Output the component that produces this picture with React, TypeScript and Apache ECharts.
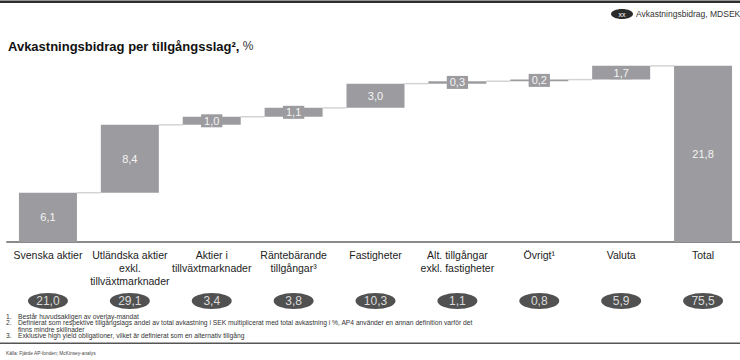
import React, { useEffect, useRef } from "react";
import * as echarts from "echarts";

const categories = [
  "Svenska aktier",
  "Utländska aktier\nexkl.\ntillväxtmarknader",
  "Aktier i\ntillväxtmarknader",
  "Räntebärande\ntillgångar³",
  "Fastigheter",
  "Alt. tillgångar\nexkl. fastigheter",
  "Övrigt¹",
  "Valuta",
  "Total",
];
const contributions = [6.1, 8.4, 1.0, 1.1, 3.0, 0.3, 0.2, 1.7, 21.8];
const isTotal = [false, false, false, false, false, false, false, false, true];
const mdsek = [21.0, 29.1, 3.4, 3.8, 10.3, 1.1, 0.8, 5.9, 75.5];

const footnotes = [
  ["1.", "Består huvudsakligen av overlay-mandat"],
  ["2.", "Definierat som respektive tillgångslags andel av total avkastning i SEK multiplicerat med total avkastning i %, AP4 använder en annan definition varför det"],
  ["", "finns mindre skillnader"],
  ["3.", "Exklusive high yield obligationer, vilket är definierat som en alternativ tillgång"],
];
const source = "Källa: Fjärde AP-fonden; McKinsey-analys";

const FONT = "Liberation Sans, Arial, sans-serif";
const BAR_W = 58;
const BAR_COLOR = "#9c9ca0";
const fmt = (v: number) => v.toFixed(1).replace(".", ",");

export default function App() {
  const ref = useRef<HTMLDivElement>(null);
  useEffect(() => {
    if (!ref.current) return;
    const chart = echarts.init(ref.current, undefined, { renderer: "svg" });

    const bases: number[] = [];
    const cums: number[] = [];
    let run = 0;
    contributions.forEach((v, i) => {
      if (isTotal[i]) {
        bases.push(0);
        cums.push(v);
      } else {
        bases.push(run);
        run += v;
        cums.push(run);
      }
    });
    const connectors = cums.slice(0, cums.length - 1).map((v, i) => [i, v]);

    const fnY = [316, 322.5, 329, 335.5];
    const graphics: any[] = [
      { type: "rect", shape: { x: 0, y: 0.5, width: 750, height: 2.5 }, style: { fill: "#2e2e2e" } },
      { type: "ellipse", shape: { cx: 622, cy: 14, rx: 11, ry: 5 }, style: { fill: "#2a2a2a" } },
      {
        type: "text", x: 622, y: 14,
        style: { text: "xx", fill: "#fff", fontSize: 7, fontFamily: FONT, align: "center", verticalAlign: "middle" },
      },
      {
        type: "text", x: 636, y: 14,
        style: { text: "Avkastningsbidrag, MDSEK", fill: "#333", fontSize: 8.5, fontFamily: FONT, verticalAlign: "middle" },
      },
      {
        type: "text", x: 8, y: 46,
        style: {
          text: "{b|Avkastningsbidrag per tillgångsslag²,} {n|%}",
          verticalAlign: "middle",
          rich: {
            b: { fontSize: 13, fontWeight: "bold", fill: "#111", fontFamily: FONT },
            n: { fontSize: 12, fill: "#333", fontFamily: FONT },
          },
        },
      },
      { type: "rect", shape: { x: 0, y: 342.5, width: 750, height: 1.5 }, style: { fill: "#555" } },
      {
        type: "text", x: 6, y: 353,
        style: { text: source, fill: "#444", fontSize: 4.8, fontFamily: FONT, verticalAlign: "middle" },
      },
    ];
    footnotes.forEach(([n, t], i) => {
      if (n)
        graphics.push({
          type: "text", x: 6, y: fnY[i],
          style: { text: n, fill: "#333", fontSize: 6.7, fontFamily: FONT, verticalAlign: "middle" },
        });
      graphics.push({
        type: "text", x: 18, y: fnY[i],
        style: { text: t, fill: "#333", fontSize: 6.7, fontFamily: FONT, verticalAlign: "middle" },
      });
    });

    chart.setOption({
      animation: false,
      textStyle: { fontFamily: FONT },
      grid: [
        { left: 7, width: 737, top: 40, height: 202 },
        { left: 7, width: 737, top: 294, height: 14 },
      ],
      xAxis: [
        {
          type: "category",
          gridIndex: 0,
          data: categories,
          axisLine: { lineStyle: { color: "#8a8a8a", width: 2 } },
          axisTick: { show: false },
          axisLabel: { interval: 0, fontSize: 10.5, color: "#222", lineHeight: 13, margin: 6, fontFamily: FONT },
        },
        { type: "category", gridIndex: 1, data: categories, show: false },
      ],
      yAxis: [
        { type: "value", gridIndex: 0, min: 0, max: 25, show: false, splitLine: { show: false } },
        { type: "value", gridIndex: 1, min: 0, max: 1, show: false, splitLine: { show: false } },
      ],
      graphic: graphics,
      series: [
        {
          type: "bar",
          stack: "w",
          barWidth: BAR_W,
          data: bases,
          itemStyle: { color: "transparent" },
          silent: true,
        },
        {
          type: "bar",
          stack: "w",
          barWidth: BAR_W,
          data: contributions,
          itemStyle: { color: BAR_COLOR },
          label: {
            show: true,
            position: "inside",
            color: "#f4f4f4",
            fontSize: 11,
            fontFamily: FONT,
            backgroundColor: BAR_COLOR,
            padding: [1, 3],
            formatter: (p: any) => fmt(p.value),
          },
        },
        {
          type: "custom",
          xAxisIndex: 0,
          yAxisIndex: 0,
          data: connectors,
          encode: { x: 0, y: 1 },
          z: 1,
          renderItem: (params: any, api: any) => {
            const p = api.coord([api.value(0), api.value(1)]);
            const bw = api.size([1, 0])[0];
            const half = BAR_W / 2;
            return {
              type: "line",
              shape: { x1: p[0] + half, y1: p[1], x2: p[0] + bw - half, y2: p[1] },
              style: { stroke: "#d4d4d4", lineWidth: 1.5 },
            };
          },
        },
        {
          type: "scatter",
          xAxisIndex: 1,
          yAxisIndex: 1,
          symbol: "path://M0,50 A50,50 0 1,1 100,50 A50,50 0 1,1 0,50 Z",
          symbolSize: [40, 16],
          itemStyle: { color: "#262626" },
          data: mdsek.map((v, i) => [i, 0.5, v]),
          label: {
            show: true,
            position: "inside",
            color: "#fff",
            fontSize: 12,
            fontFamily: FONT,
            formatter: (p: any) => fmt(p.value[2]),
          },
        },
      ],
    });
    return () => chart.dispose();
  }, []);
  return (
    <div style={{ position: "absolute", left: 0, top: 0, width: 740, height: 360, overflow: "hidden", background: "#fff" }}>
      <div ref={ref} style={{ width: 750, height: 360 }} />
    </div>
  );
}
